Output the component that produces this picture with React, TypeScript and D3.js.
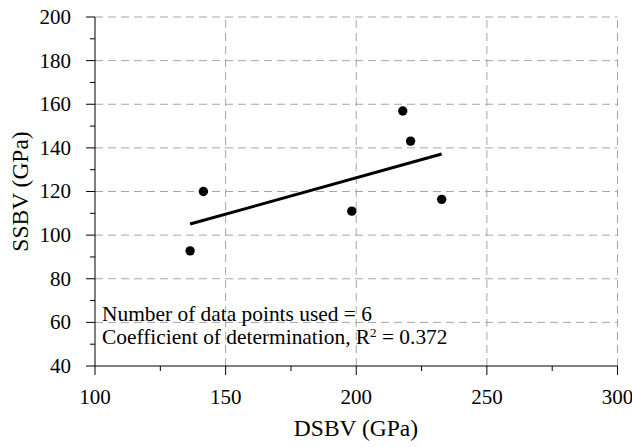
import React from "react";
import * as d3 from "d3";

const dsbv = [141.5, 136.4, 198.3, 217.8, 220.8, 232.7];
const ssbv = [120, 92.8, 111, 156.9, 143.1, 116.4];
const xTicks = [100, 150, 200, 250, 300];
const yTicks = [40, 60, 80, 100, 120, 140, 160, 180, 200];
const xMinor = [125, 175, 225, 275];
const yMinor = [50, 70, 90, 110, 130, 150, 170, 190];
const noteLines = ["Number of data points used = 6", "Coefficient of determination, R"];

export default function App() {
  const W = 632, H = 447;
  const x = d3.scaleLinear().domain([100, 300]).range([95, 617.5]);
  const y = d3.scaleLinear().domain([40, 200]).range([366, 17]);
  const n = dsbv.length;
  const mx = d3.mean(dsbv)!, my = d3.mean(ssbv)!;
  let sxy = 0, sxx = 0;
  for (let i = 0; i < n; i++) { sxy += (dsbv[i] - mx) * (ssbv[i] - my); sxx += (dsbv[i] - mx) ** 2; }
  const slope = sxy / sxx, icpt = my - slope * mx;
  const [x0, x1] = d3.extent(dsbv) as [number, number];
  const line = d3.line<number>().x((d) => x(d)).y((d) => y(icpt + slope * d));
  const ts = { fontFamily: "Liberation Serif" };
  const grid = "#a6a6a6";
  const fs = 21;
  const nfs = 21.4;
  const tfs = 23.5;
  return (
    <svg width={W} height={H} style={{ position: "absolute", left: 0, top: 0 }}>
      <rect width={W} height={H} fill="#fff" />
      {yTicks.filter((t) => t > 40).map((t) => (
        <line key={"gy" + t} x1={x(100)} x2={x(300)} y1={y(t)} y2={y(t)} stroke={grid} strokeWidth={1} strokeDasharray="8,5" />
      ))}
      {xTicks.filter((t) => t > 100).map((t) => (
        <line key={"gx" + t} x1={x(t)} x2={x(t)} y1={y(40)} y2={y(200)} stroke={grid} strokeWidth={1} strokeDasharray="8,5" />
      ))}
      <line x1={x(100)} x2={x(100)} y1={y(40)} y2={y(200)} stroke="#000" strokeWidth={1} />
      <line x1={x(100)} x2={x(300)} y1={y(40)} y2={y(40)} stroke="#000" strokeWidth={1} />
      {yTicks.map((t) => (
        <g key={"yt" + t}>
          <line x1={x(100) - 9} x2={x(100)} y1={y(t)} y2={y(t)} stroke="#000" />
          <text x={x(100) - 24} y={y(t)} dy="0.33em" textAnchor="end" fontSize={fs} style={ts}>{t}</text>
        </g>
      ))}
      {yMinor.map((t) => (
        <line key={"ym" + t} x1={x(100) - 5} x2={x(100)} y1={y(t)} y2={y(t)} stroke="#000" />
      ))}
      {xTicks.map((t) => (
        <g key={"xt" + t}>
          <line x1={x(t)} x2={x(t)} y1={y(40)} y2={y(40) + 9} stroke="#000" />
          <text x={x(t)} y={404} textAnchor="middle" fontSize={fs} style={ts}>{t}</text>
        </g>
      ))}
      {xMinor.map((t) => (
        <line key={"xm" + t} x1={x(t)} x2={x(t)} y1={y(40)} y2={y(40) + 5} stroke="#000" />
      ))}
      <path d={line([x0, x1]) || ""} stroke="#000" strokeWidth={3} fill="none" />
      {dsbv.map((d, i) => (
        <circle key={"p" + i} cx={x(d)} cy={y(ssbv[i])} r={4.7} fill="#000" />
      ))}
      <text x={102} y={321} fontSize={nfs} style={ts}>{noteLines[0]}</text>
      <text x={102} y={344} fontSize={nfs} style={ts}>
        {noteLines[1]}
        <tspan fontSize={13} dy={-7}>2</tspan>
        <tspan dy={7}> = 0.372</tspan>
      </text>
      <text x={356} y={436} textAnchor="middle" fontSize={tfs} style={ts}>DSBV (GPa)</text>
      <text transform={`translate(28,${(y(40) + y(200)) / 2}) rotate(-90)`} textAnchor="middle" fontSize={tfs} style={ts}>SSBV (GPa)</text>
    </svg>
  );
}
